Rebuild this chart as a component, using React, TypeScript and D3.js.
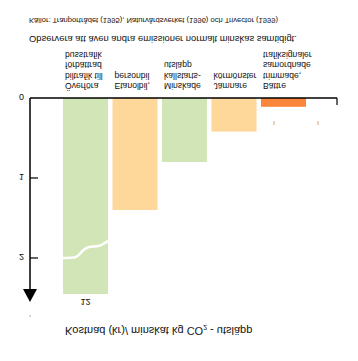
import React from "react";
import * as d3 from "d3";

const categories: string[][] = [
  ["Överföra", "biltrafik till", "förbättrad", "busstrafik"],
  ["Etanolbil,", "personbil"],
  ["Minskade", "kallstarts-", "utsläpp"],
  ["Jämnare", "körmönster"],
  ["Bättre", "trimmade,", "samordnade", "trafiksignaler"],
];
const values: number[] = [12, 1.4, 0.8, 0.42, 0.11];
const barColors: string[] = ["#d1e5b6", "#fed89b", "#d1e5b6", "#fed89b", "#f9863a"];
const yTicks: number[] = [0, 1, 2];
const axisMax = 2.45;
const sourceText = "Källor: Tranportrådet (1995), Naturvårdsverket (1996) och Trivector (1999)";
const noteText = "Observera att även andra emissioner normalt minskas samtidigt.";

const FONT = "'Liberation Sans', Arial, sans-serif";

function FT(props: { x: number; y: number; size: number; anchor?: string; children: React.ReactNode }) {
  const { x, y, size, anchor = "start", children } = props;
  return (
    <text
      transform={`translate(${x},${y}) scale(1,-1)`}
      fontSize={size}
      fontFamily={FONT}
      textAnchor={anchor}
      dominantBaseline="central"
      fill="#111"
    >
      {children}
    </text>
  );
}

export default function App() {
  const W = 358, H = 361;
  const y = d3.scaleLinear().domain([0, axisMax]).range([98, 98 + 80 * axisMax]);
  const x = d3
    .scaleBand<number>()
    .domain(values.map((_, i) => i))
    .range([60.75, 308.25])
    .paddingInner(0.0909)
    .paddingOuter(0.04545);
  const bw = x.bandwidth();
  const axisX = 30;

  const x0 = x(0)!;
  const breakLine = d3.line<[number, number]>().curve(d3.curveBasis)([
    [x0 - 1, y(2.0)],
    [x0 + 10, y(2.0)],
    [x0 + 14, y(1.99)],
    [x0 + 20, y(1.9)],
    [x0 + 26, y(1.85)],
    [x0 + 36, y(1.86)],
    [x0 + 42, y(1.81)],
    [x0 + bw + 1, y(1.78)],
  ]);

  return (
    <svg width={W} height={H} style={{ position: "absolute", left: 0, top: 0, background: "#fff" }}>
      <rect width={W} height={H} fill="#fff" />
      {/* notes */}
      <FT x={29} y={20} size={7.6}>{sourceText}</FT>
      <FT x={29} y={39} size={9.4}>{noteText}</FT>

      {/* bars */}
      {values.map((v, i) => (
        <rect
          key={i}
          x={x(i)}
          y={y(0)}
          width={bw}
          height={y(Math.min(v, axisMax)) - y(0)}
          fill={barColors[i]}
        />
      ))}
      {breakLine && <path d={breakLine} fill="none" stroke="#fff" strokeWidth={2.5} />}
      {values.map((v, i) =>
        v > axisMax ? (
          <FT key={"v" + i} x={x(i)! + bw / 2} y={y(axisMax) + 8} size={9} anchor="middle">
            {String(v)}
          </FT>
        ) : null
      )}

      {/* small marks */}
      <line x1={274} x2={274} y1={121} y2={125} stroke="#d9a070" strokeWidth={1} />
      <line x1={318} x2={318} y1={121} y2={125} stroke="#d9a070" strokeWidth={1} />

      {/* category labels */}
      {categories.map((lines, i) =>
        lines.map((ln, j) => (
          <FT key={i + "-" + j} x={x(i)! + 2} y={86 - j * 10.4} size={8.6}>
            {ln}
          </FT>
        ))
      )}

      {/* horizontal axis */}
      <line x1={axisX} x2={337} y1={y(0)} y2={y(0)} stroke="#000" strokeWidth={1.5} />
      <line x1={337} x2={337} y1={y(0)} y2={y(0) + 7} stroke="#000" strokeWidth={1.2} />

      {/* vertical axis */}
      <line x1={axisX} x2={axisX} y1={y(0)} y2={292} stroke="#000" strokeWidth={1.5} />
      <path d={`M${axisX - 7},289 L${axisX + 7},289 L${axisX},302 Z`} fill="#000" />
      <circle cx={axisX} cy={316} r={0.6} fill="#444" />
      {yTicks.map((t) => (
        <g key={t}>
          {t > 0 && <line x1={axisX} x2={axisX + 8} y1={y(t)} y2={y(t)} stroke="#000" strokeWidth={1.2} />}
          <FT x={24} y={y(t) - 1} size={9} anchor="end">
            {String(t)}
          </FT>
        </g>
      ))}

      {/* axis title */}
      <text
        transform={`translate(65,331) scale(1,-1)`}
        fontSize={11}
        fontFamily={FONT}
        dominantBaseline="central"
        fill="#111"
      >
        Kostnad (kr)/ minskat kg CO
        <tspan fontSize={7} dy={3}>2</tspan>
        <tspan dy={-3}> - utsläpp</tspan>
      </text>
    </svg>
  );
}
